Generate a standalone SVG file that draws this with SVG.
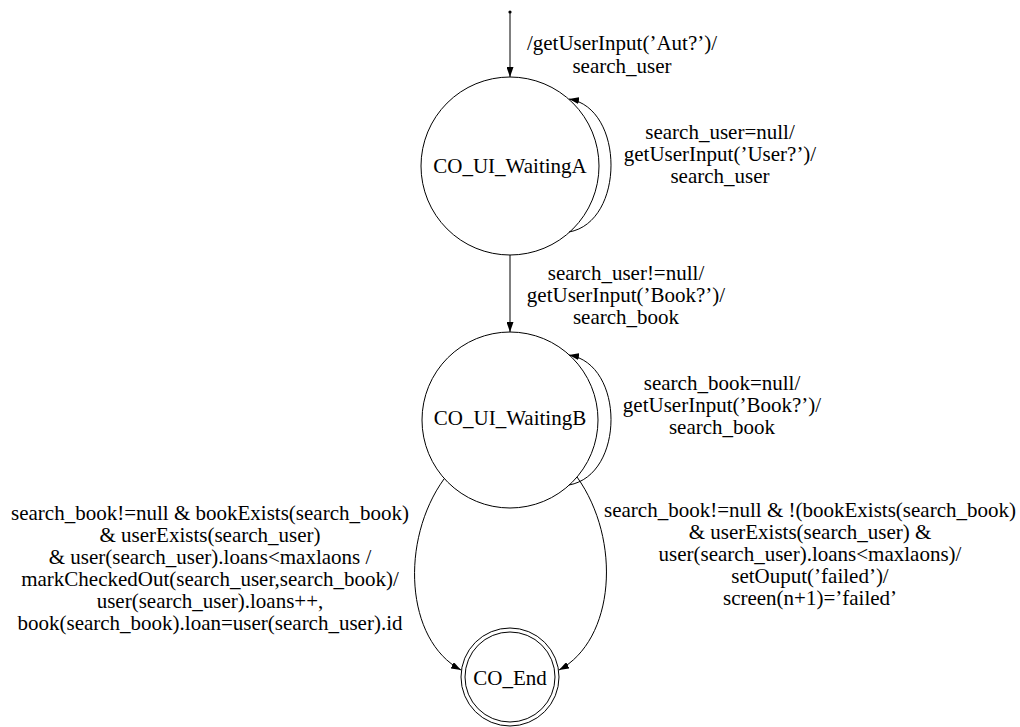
<svg xmlns="http://www.w3.org/2000/svg" width="1020" height="727" viewBox="0 0 1020 727">
<style>
text{font-family:"Liberation Serif","Times New Roman",serif;font-size:21px;fill:#000;text-anchor:middle}
.st{fill:none;stroke:#000;stroke-width:1}
.edge{fill:none;stroke:#000;stroke-width:1;marker-end:url(#ah)}
</style>
<defs>
<marker id="ah" markerWidth="10" markerHeight="7" refX="10" refY="3.5" orient="auto" markerUnits="userSpaceOnUse">
<path d="M0,0 L10,3.5 L0,7 z" fill="#000"/>
</marker>
</defs>
<rect width="1020" height="727" fill="#fff"/>
<g id="init"><circle cx="510" cy="12" r="1.6" fill="#000"/></g>
<g id="CO_UI_WaitingA"><circle class="st" cx="510" cy="166" r="89"/><text x="510" y="173">CO_UI_WaitingA</text></g>
<g id="CO_UI_WaitingB"><circle class="st" cx="510" cy="420" r="88"/><text x="510" y="425">CO_UI_WaitingB</text></g>
<g id="CO_End"><circle class="st" cx="510" cy="677" r="49"/><circle class="st" cx="510" cy="677" r="45"/><text x="510" y="685">CO_End</text></g>
<g id="connectors">
<path class="edge" d="M510,13 L510,77"/>
<path class="edge" d="M569,232 C625,222 625,108 569,99"/>
<path class="edge" d="M510,255 L510,332"/>
<path class="edge" d="M569,485 C625,475 625,364 569,355"/>
<path class="edge" d="M444,479 C400,540 405,640 461,670"/>
<path class="edge" d="M577,477 C622,540 615,640 559,670"/>
</g>
<g id="labels">
<text x="622" y="50"><tspan x="622">/getUserInput(’Aut?’)/</tspan><tspan x="622" dy="23">search_user</tspan></text>
<text x="720" y="139"><tspan x="720">search_user=null/</tspan><tspan x="720" dy="22">getUserInput(’User?’)/</tspan><tspan x="720" dy="22">search_user</tspan></text>
<text x="626" y="280"><tspan x="626">search_user!=null/</tspan><tspan x="626" dy="22">getUserInput(’Book?’)/</tspan><tspan x="626" dy="22">search_book</tspan></text>
<text x="722" y="390"><tspan x="722">search_book=null/</tspan><tspan x="722" dy="22">getUserInput(’Book?’)/</tspan><tspan x="722" dy="22">search_book</tspan></text>
<text x="210" y="520"><tspan x="210">search_book!=null &amp; bookExists(search_book)</tspan><tspan x="210" dy="22">&amp; userExists(search_user)</tspan><tspan x="210" dy="22">&amp; user(search_user).loans&lt;maxlaons /</tspan><tspan x="210" dy="22">markCheckedOut(search_user,search_book)/</tspan><tspan x="210" dy="22">user(search_user).loans++,</tspan><tspan x="210" dy="22">book(search_book).loan=user(search_user).id</tspan></text>
<text x="810" y="517"><tspan x="810">search_book!=null &amp; !(bookExists(search_book)</tspan><tspan x="810" dy="22">&amp; userExists(search_user) &amp;</tspan><tspan x="810" dy="22">user(search_user).loans&lt;maxlaons)/</tspan><tspan x="810" dy="22">setOuput(’failed’)/</tspan><tspan x="810" dy="22">screen(n+1)=’failed’</tspan></text>
</g>
</svg>
